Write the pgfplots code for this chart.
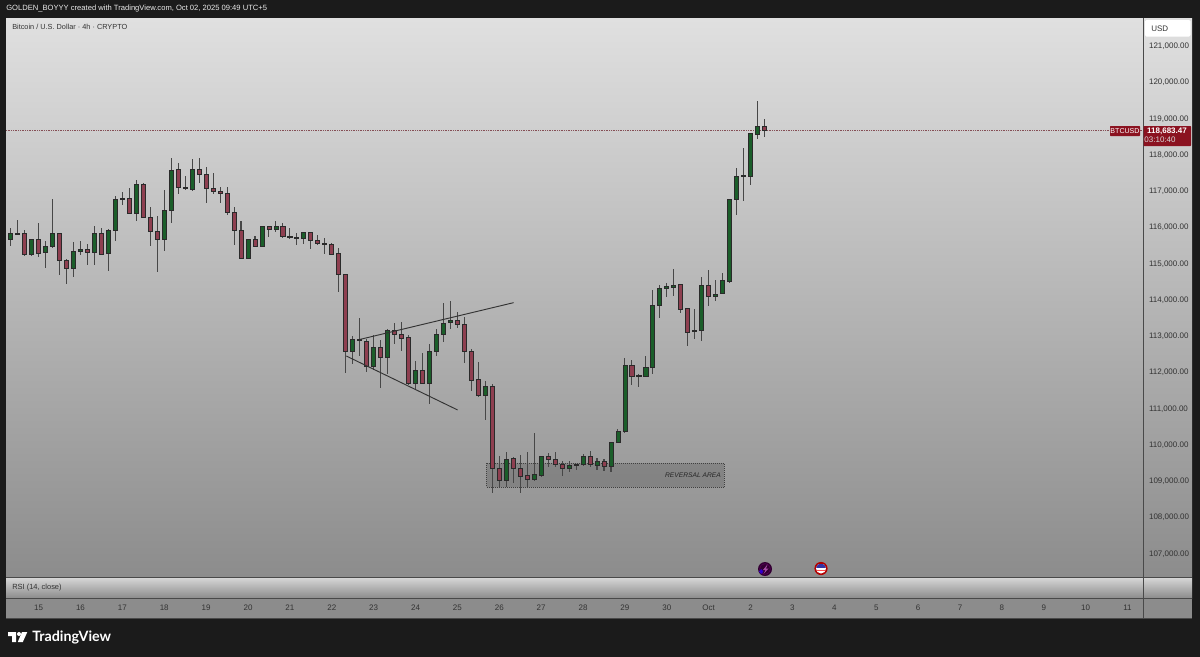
\documentclass[border=0pt]{standalone}
\usepackage{pgfplots}
\usepackage{pgfplotstable}
\usepackage{fontspec}
\setmainfont{Liberation Sans}
\newfontfamily\logofont{Lato}
\pgfplotsset{compat=1.18}
\usepgfplotslibrary{statistics}
\definecolor{frame}{HTML}{1B1B1B}
\definecolor{bull}{HTML}{1B5E2A}
\definecolor{bear}{HTML}{8E3F50}
\definecolor{edgeline}{HTML}{2A2A2A}
\definecolor{wick}{HTML}{474747}
\definecolor{tagred}{HTML}{8B1220}
\definecolor{gtop}{HTML}{E0E0E0}
\definecolor{gbot}{HTML}{8C8C8C}
\definecolor{txt}{HTML}{333333}

\pgfplotstableread{
x l b t h
0 115491 115684 115850 115978
1 115813 115822 115850 116208
3 115243 115252 115675 115684
5 114884 115307 115482 115629
6 115454 115473 115840 116778
9 114645 114884 115344 115601
10 115243 115335 115399 115629
12 114967 115307 115850 116033
14 114811 115298 115932 115951
15 115629 115914 116787 116879
16 116622 116778 116806 116990
18 116190 116401 117183 117312
22 115353 115675 116484 117027
23 116135 116466 117578 117909
26 117017 117054 117606 117882
34 115142 115151 115675 115693
36 115473 115491 116033 116043
38 115877 115942 116043 116181
41 115509 115712 115739 115859
42 115546 115712 115859 115868
49 112236 112577 112926 113009
52 112071 112181 112705 113036
54 111961 112420 113174 113193
58 111556 111703 112071 112319
60 111124 111703 112595 112797
61 112448 112595 113046 113202
62 112843 113046 113367 113928
63 113193 113377 113450 113983
68 110691 111380 111620 111758
71 108852 109017 109615 109817
75 109036 109045 109201 110323
76 109128 109174 109679 109698
80 109266 109357 109449 109560
81 109311 109440 109468 109477
82 109422 109459 109688 109753
84 109311 109449 109560 109633
86 109256 109403 110075 110084
87 110065 110065 110387 110433
88 110360 110369 112208 112392
90 111610 111905 111923 111951
91 111905 111905 112144 112456
92 111960 112144 113863 114277
93 113505 113854 114314 114415
94 114075 114314 114369 114461
95 114111 114360 114415 114847
99 112861 113155 114406 114626
101 113983 114093 114167 114553
102 114176 114176 114544 114737
103 114479 114516 116787 116787
104 116355 116787 117412 117633
105 116741 117403 117440 118185
106 117173 117422 118599 118608
107 118442 118562 118792 119500
}\bulltable

\pgfplotstableread{
x l b t h
2 115234 115252 115831 115932
4 115197 115298 115675 116125
7 114682 115105 115840 115840
8 114443 114884 115105 115123
11 114958 115307 115399 115546
13 115234 115270 115850 115988
17 116392 116392 116806 117082
19 116273 116273 117192 117220
20 115500 115886 116282 116558
21 114783 115675 115896 116319
24 116916 117100 117606 117771
25 117063 117073 117109 117422
27 117220 117468 117606 117928
28 116668 117091 117477 117679
29 116925 116990 117091 117495
30 116668 116935 117008 117128
31 116346 116410 116944 117128
32 115509 115914 116420 116576
33 115151 115151 115923 116181
35 115473 115491 115675 115776
37 115730 115942 116024 116043
39 115739 115748 116043 116135
40 115675 115721 115758 115988
43 115399 115638 115868 115868
44 115528 115555 115656 115794
45 115270 115528 115574 115712
46 115261 115270 115537 115583
47 114213 114710 115289 115427
48 111997 112586 114710 114719
50 112466 112880 112926 113496
51 112016 112163 112871 112926
53 111574 112411 112705 112898
55 112797 113046 113174 113358
56 112595 112954 113055 113386
57 111648 111703 112963 113036
59 111703 111703 112071 112531
64 113239 113331 113450 113680
65 112273 112586 113340 113524
66 111501 111795 112595 112641
67 111335 111381 111804 112282
69 108686 109357 111629 111685
70 108833 109017 109357 109707
72 108962 109348 109624 109661
73 108668 109146 109348 109725
74 108833 109045 109164 109799
77 109385 109606 109679 109771
78 109403 109459 109615 109799
79 109146 109357 109468 109569
83 109403 109459 109688 109845
85 109293 109403 109560 109606
89 111656 111905 112208 112346
96 113652 113734 114424 114433
97 112732 113118 113762 113771
98 112925 113128 113164 113744
100 113836 114093 114406 114820
108 118507 118683 118783 118994
}\beartable

\newcommand\drawcandles[2]{%
  \pgfplotstablegetrowsof{#1}%
  \pgfmathtruncatemacro\lastrow{\pgfplotsretval-1}%
  \pgfplotsforeachungrouped \k in {0,...,\lastrow}{%
    \pgfplotstablegetelem{\k}{x}\of#1\let\cx\pgfplotsretval
    \pgfplotstablegetelem{\k}{l}\of#1\let\cl\pgfplotsretval
    \pgfplotstablegetelem{\k}{b}\of#1\let\cb\pgfplotsretval
    \pgfplotstablegetelem{\k}{t}\of#1\let\ct\pgfplotsretval
    \pgfplotstablegetelem{\k}{h}\of#1\let\ch\pgfplotsretval
    \edef\temp{\noexpand\addplot[solid,draw=wick,line width=0.8pt,
      boxplot/every box/.style={draw=edgeline,fill=#2,line width=0.6pt},
      boxplot/every median/.style={draw=edgeline,line width=0.6pt},
      boxplot prepared={draw position=\cx,lower whisker=\cl,lower quartile=\cb,
        median=\cb,upper quartile=\ct,upper whisker=\ch}] coordinates {};}%
    \temp
  }%
}

\begin{document}
\begin{tikzpicture}[x=0.75pt,y=-0.75pt,font=\fontsize{6}{7}\selectfont]
\path[use as bounding box] (0,0) rectangle (1200,657);
\fill[frame] (0,0) rectangle (1200,657);
% panes
\shade[top color=gtop,bottom color=gbot] (6,18) rectangle (1192,577);
\shade[top color=gtop!95!black,bottom color=gbot] (6,578) rectangle (1192,598);
\fill[gbot] (6,598) rectangle (1192,618);
\draw[frame!80,line width=0.7pt] (6,577.5)--(1192,577.5) (6,598)--(1192,598) (6,618.5)--(1192,618.5) (1143.5,18)--(1143.5,618);

\begin{axis}[at={(4.5pt,-13.5pt)},anchor=north west,scale only axis,
  width=852.75pt,height=419.25pt,
  xmin=-0.67,xmax=162.22,ymin=106360,ymax=121781,
  axis line style={draw=none},tick style={draw=none},
  boxplot/draw direction=y,boxplot/box extend=0.58,boxplot/whisker extend=0,
  yticklabel pos=right,
  ytick={107000,108000,...,121000},scaled y ticks=false,
  y tick label style={color=txt,font=\fontsize{6}{7}\selectfont,anchor=west,xshift=1pt,
    /pgf/number format/.cd,fixed,fixed zerofill,precision=2,1000 sep={,},assume math mode=true},
  xtick={4,10,16,22,28,34,40,46,52,58,64,70,76,82,88,94,100,106,112,118,124,130,136,142,148,154,160},
  xticklabels={15,16,17,18,19,20,21,22,23,24,25,26,27,28,29,30,Oct,2,3,4,5,6,7,8,9,10,11},
  x tick label style={color=txt,font=\fontsize{6}{7}\selectfont,anchor=center,yshift=-23pt},
  clip=false]
% reversal area
\addplot[draw=black!75,densely dotted,line width=0.5pt,fill=black,fill opacity=0.15,forget plot]
  coordinates {(68.18,109495)(102.19,109495)(102.19,108833)(68.18,108833)(68.18,109495)};
% last price line
\addplot[densely dotted,line width=0.3pt,color=tagred!45!gray,forget plot]
  coordinates {(-0.67,118683)(162.22,118683)};
% candles
\drawcandles{\bulltable}{bull}
\drawcandles{\beartable}{bear}
% trend lines
\addplot[black!80,line width=0.7pt,forget plot] coordinates {(48.08,112457)(64.03,110968)};
\addplot[black!80,line width=0.7pt,forget plot] coordinates {(50.09,112917)(72.05,113928)};
\end{axis}

% text
\node[anchor=east,inner sep=0,text=black!85,font=\fontsize{5}{6}\selectfont\itshape] at (721,475) {REVERSAL AREA};
\node[anchor=west,inner sep=0,text=white!92!black,font=\fontsize{5.7}{7}\selectfont] at (6,9) {GOLDEN\_BOYYY created with TradingView.com, Oct 02, 2025 09:49 UTC+5};
\node[anchor=west,inner sep=0,text=txt,font=\fontsize{5.5}{7}\selectfont] at (12,27) {Bitcoin / U.S. Dollar · 4h · CRYPTO};
\node[anchor=west,inner sep=0,text=txt,font=\fontsize{5.6}{7}\selectfont] at (12,587.5) {RSI (14, close)};
% price axis badges
\fill[white,rounded corners=1pt] (1145,20) rectangle (1190.5,36.5);
\node[anchor=west,inner sep=0,text=txt] at (1151,29) {USD};
\fill[tagred,rounded corners=0.5pt] (1110,126) rectangle (1140,136);
\node[inner sep=0,text=white,font=\fontsize{5.3}{7}\selectfont] at (1125,131) {BTCUSD};
\fill[tagred,rounded corners=0.5pt] (1143.5,126) rectangle (1191,146);
\node[inner sep=0,text=white,font=\fontsize{6}{7}\selectfont\bfseries] at (1167,131) {118,683.47};
\node[inner sep=0,text=white!85!black,font=\fontsize{6}{7}\selectfont] at (1160,140) {03:10:40};
% event icons
\fill[black!60!violet] (765,569) circle (7);
\draw[violet!70!black,line width=0.4pt] (765,569) circle (5.4);
\fill[blue!60!violet] (759,571.5)--(761.2,569)--(763.4,571.5)--(761.2,574)--cycle;
\fill[violet!70!white] (767.5,564.5)--(763,570)--(765.5,570)--(763.5,574)--(768.5,568.5)--(766,568.5)--cycle;
\fill[red!70!black] (821,568.5) circle (6.6);
\begin{scope}
\clip (821,568.5) circle (5);
\fill[white] (816,563.5) rectangle (826,573.5);
\fill[blue!55!black!80] (816,563.5) rectangle (826,567.7);
\fill[red!70] (816,569.5) rectangle (826,571);
\end{scope}
% TradingView logo
\fill[white] (8,632)--(16.2,632)--(16.2,642)--(12,642)--(12,636)--(8,636)--cycle;
\fill[white] (19,634) circle (2);
\fill[white] (22,632)--(27.3,632)--(22.8,642)--(17.8,642)--cycle;
\node[anchor=west,inner sep=0,text=white,font=\logofont\bfseries\fontsize{10.7}{13}\selectfont] at (32,637) {TradingView};
\end{tikzpicture}
\end{document}
